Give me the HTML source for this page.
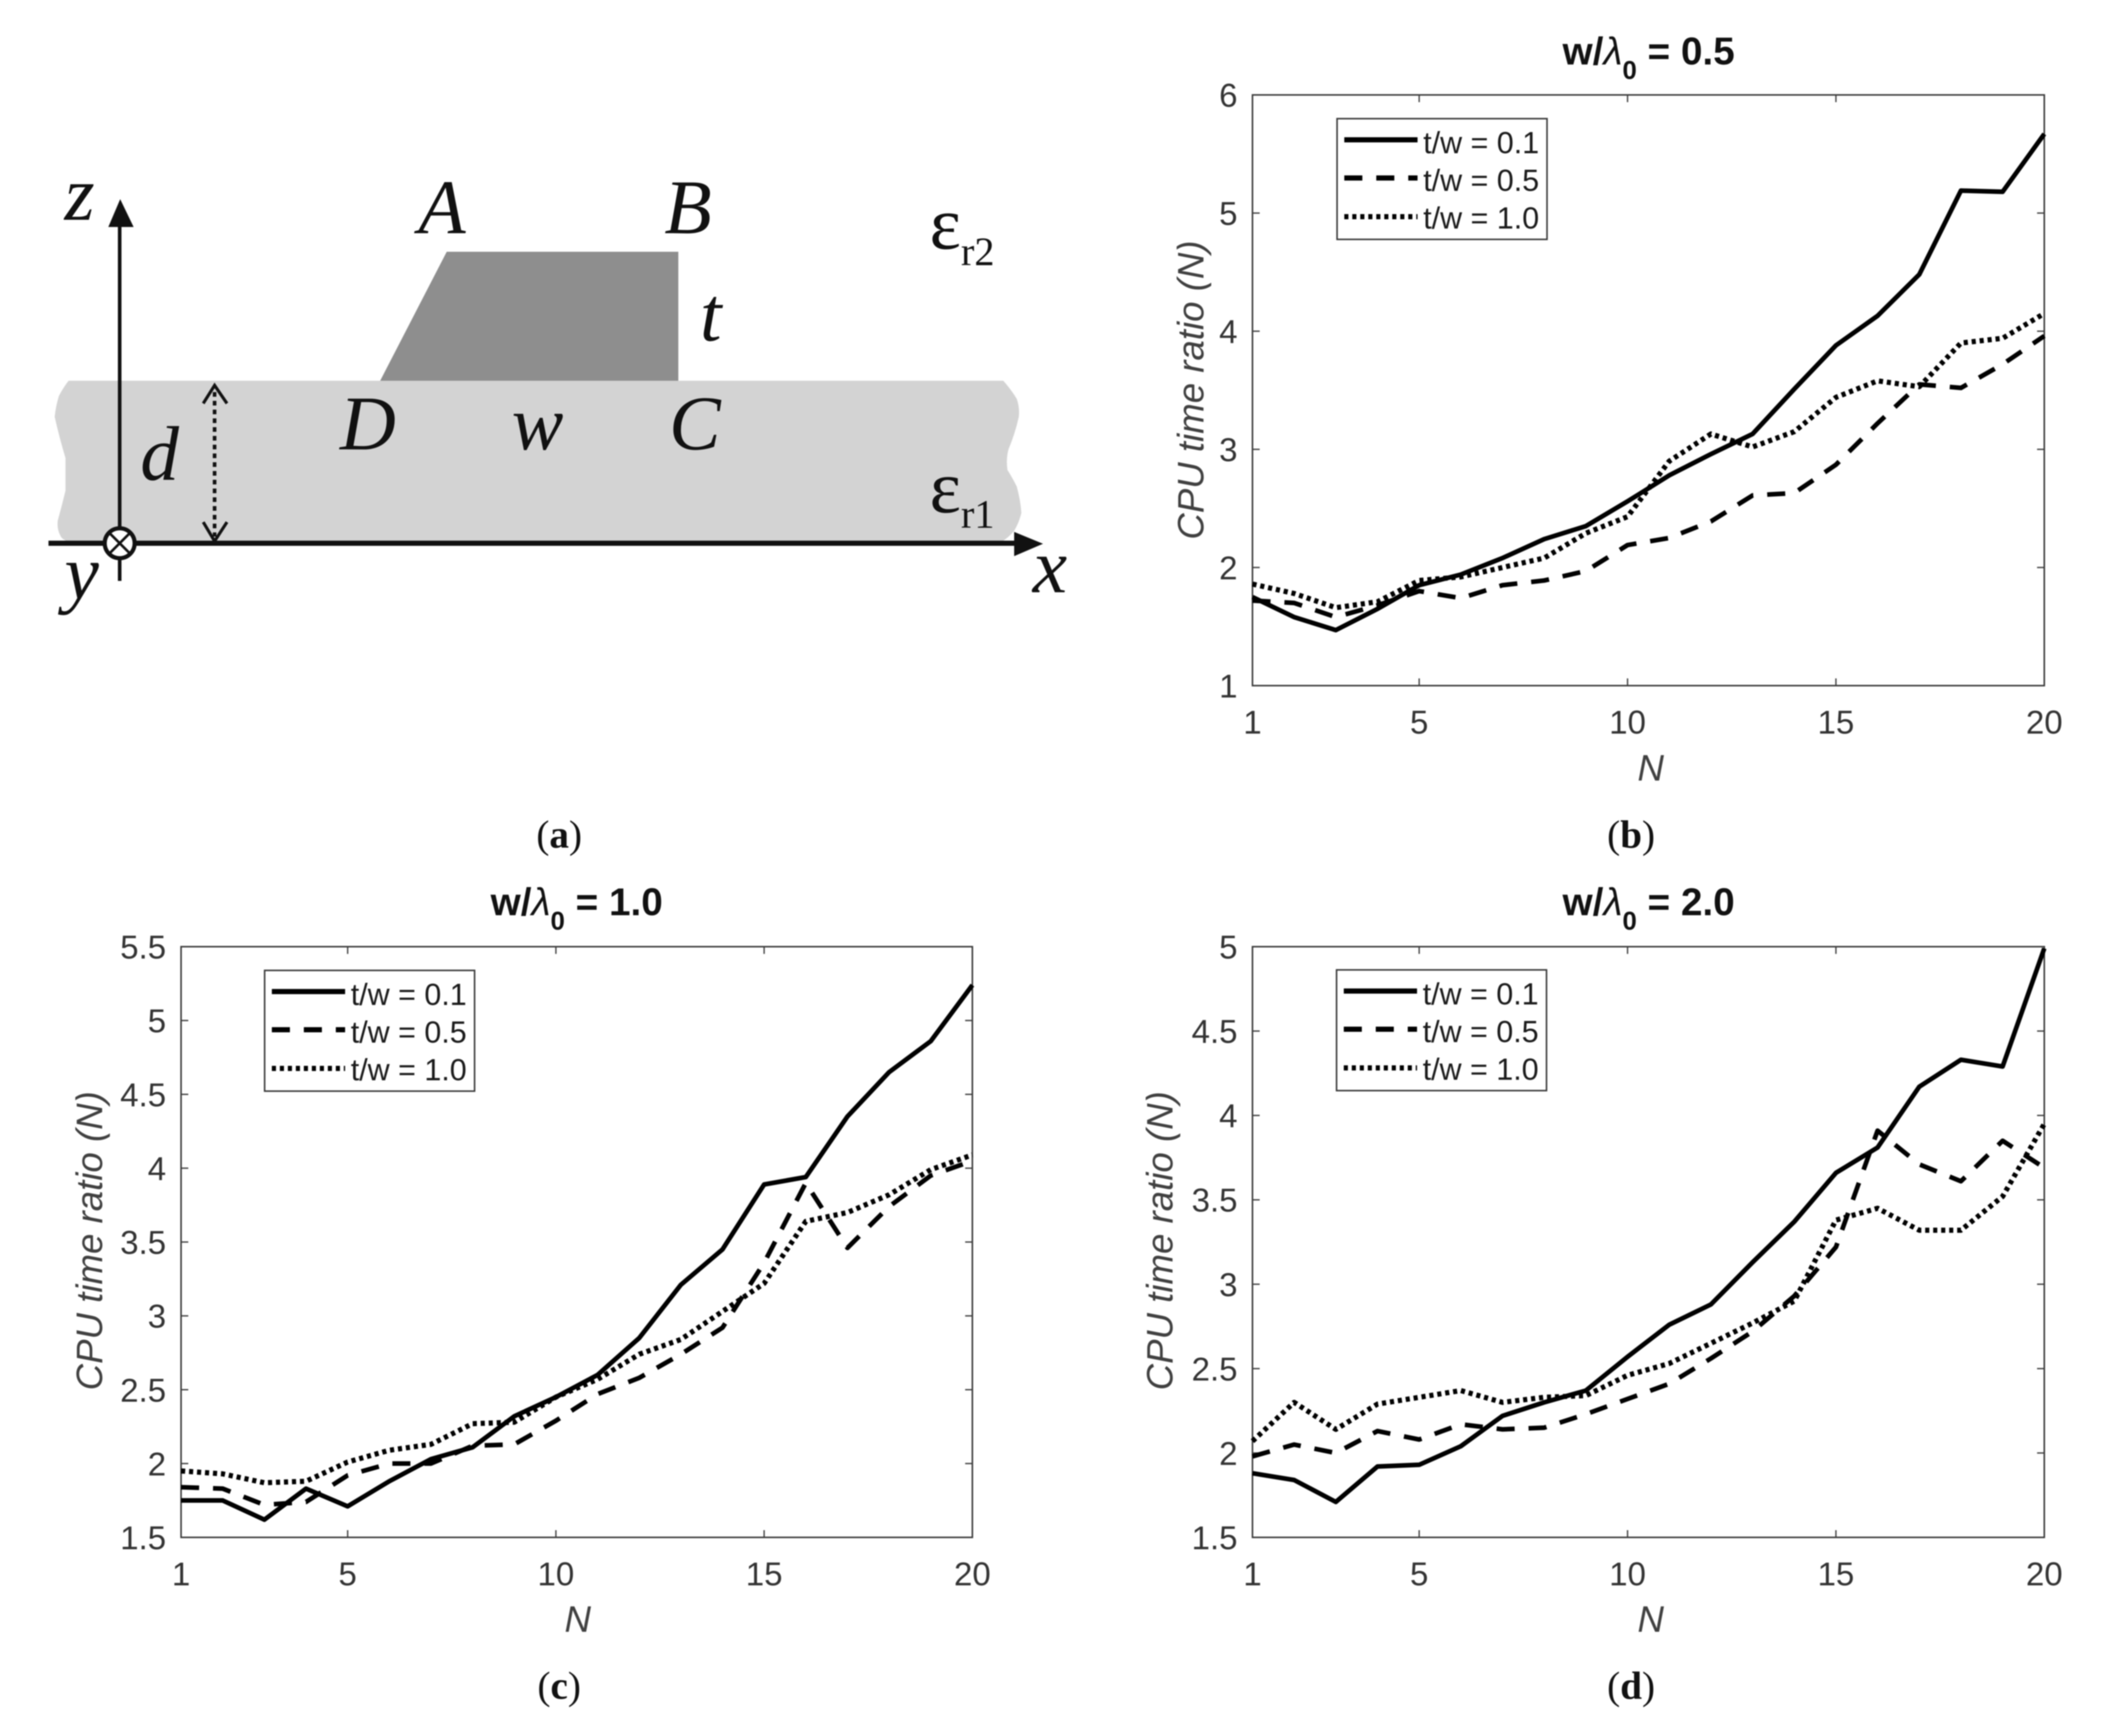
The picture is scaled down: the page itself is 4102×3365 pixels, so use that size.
<!DOCTYPE html>
<html lang="en">
<head>
<meta charset="utf-8">
<title>CPU time ratio figure</title>
<style>
html,body{margin:0;padding:0;background:#fff;}
svg{display:block;filter:blur(1px);}
text{font-family:"Liberation Sans",sans-serif;}
.letter{font-family:"Liberation Serif",serif;font-style:italic;font-size:150px;fill:#111;}
.eps{font-family:"Liberation Serif",serif;font-size:145px;fill:#111;}
.eps-sub{font-family:"Liberation Serif",serif;font-size:78px;fill:#111;}
.ttl{font-size:75px;font-weight:bold;fill:#111;text-anchor:middle;}
.axl{font-size:71px;font-style:italic;fill:#404040;text-anchor:middle;}
.cap{font-family:"Liberation Serif",serif;font-size:76px;fill:#111;text-anchor:middle;}
</style>
</head>
<body>
<svg id="fig" xmlns="http://www.w3.org/2000/svg" width="4102" height="3365" viewBox="0 0 4102 3365">
  <rect width="4102" height="3365" fill="#fff"/>

  <g>
    <path fill="#d3d3d3" d="M133 738 L1945 738 Q1960 755 1971 773 Q1977 790 1975 808 Q1968 840 1955 871 Q1950 890 1953 911 Q1962 925 1971 943 Q1978 968 1980 994 Q1976 1012 1966 1029 Q1955 1042 1942 1050 L133 1050 Q120 1046 117 1038 Q110 1025 112 1009 Q120 980 127 951 L127 888 Q115 848 106 808 Q108 788 114 768 Q122 752 133 738 Z"/>
    <polygon fill="#8e8e8e" points="866,488 1315,488 1315,738 737,738"/>
    <line x1="94" y1="1053" x2="1975" y2="1053" stroke="#111" stroke-width="10"/>
    <polygon fill="#111" points="2022,1054 1966,1031 1966,1078"/>
    <line x1="232" y1="1126" x2="232" y2="430" stroke="#111" stroke-width="7"/>
    <polygon fill="#111" points="233,386 210,440 259,440"/>
    <g>
      <circle cx="232" cy="1053" r="29" fill="#fff" stroke="#111" stroke-width="8"/>
      <line x1="213" y1="1034" x2="251" y2="1072" stroke="#111" stroke-width="5"/>
      <line x1="251" y1="1034" x2="213" y2="1072" stroke="#111" stroke-width="5"/>
    </g>
    <g fill="none" stroke="#111">
      <line x1="416" y1="760" x2="416" y2="1040" stroke-width="7" stroke-dasharray="9 8"/>
      <polyline points="394,782 416,747 440,782" stroke-width="6"/>
      <polyline points="394,1012 416,1049 440,1012" stroke-width="6"/>
    </g>
    <text class="letter" x="125" y="426">z</text>
    <text class="letter" x="811" y="452">A</text>
    <text class="letter" x="1288" y="452">B</text>
    <text class="letter" x="1357" y="660">t</text>
    <text class="letter" x="659" y="871">D</text>
    <text class="letter" x="992" y="871">w</text>
    <text class="letter" x="1297" y="871">C</text>
    <text class="letter" x="272" y="930">d</text>
    <text class="letter" x="125" y="1160">y</text>
    <text class="letter" x="2002" y="1148">x</text>
    <text x="1802" y="482"><tspan class="eps">ε</tspan><tspan class="eps-sub" dy="32">r2</tspan></text>
    <text x="1802" y="993"><tspan class="eps">ε</tspan><tspan class="eps-sub" dy="30">r1</tspan></text>
  </g>

  <text class="ttl" x="3196" y="125">w/<tspan font-style="italic" font-weight="normal">λ</tspan><tspan dy="28" font-size="50">0</tspan><tspan dy="-28"> = 0.5</tspan></text>
  <text class="ttl" x="1118" y="1774">w/<tspan font-style="italic" font-weight="normal">λ</tspan><tspan dy="28" font-size="50">0</tspan><tspan dy="-28"> = 1.0</tspan></text>
  <text class="ttl" x="3196" y="1774">w/<tspan font-style="italic" font-weight="normal">λ</tspan><tspan dy="28" font-size="50">0</tspan><tspan dy="-28"> = 2.0</tspan></text>

  <text class="axl" transform="translate(2333 756) rotate(-90)">CPU time ratio (N)</text>
  <text class="axl" transform="translate(198 2405) rotate(-90)">CPU time ratio (N)</text>
  <text class="axl" transform="translate(2273 2405) rotate(-90)">CPU time ratio (N)</text>
  <text class="axl" x="3200" y="1513">N</text>
  <text class="axl" x="1120" y="3163">N</text>
  <text class="axl" x="3200" y="3163">N</text>

  <text class="cap" x="1084" y="1643">(<tspan font-weight="bold">a</tspan>)</text>
  <text class="cap" x="3162" y="1643">(<tspan font-weight="bold">b</tspan>)</text>
  <text class="cap" x="1084" y="3293">(<tspan font-weight="bold">c</tspan>)</text>
  <text class="cap" x="3162" y="3293">(<tspan font-weight="bold">d</tspan>)</text>
</svg>

<script>
const N = [1,2,3,4,5,6,7,8,9,10,11,12,13,14,15,16,17,18,19,20];
const xTicks = [1,5,10,15,20];
const legendLabels = ['t/w = 0.1','t/w = 0.5','t/w = 1.0'];

const bYTicks = ['1','2','3','4','5','6'];
const bSolid = [1.75,1.58,1.47,1.65,1.85,1.94,2.08,2.24,2.35,2.56,2.78,2.96,3.13,3.51,3.88,4.13,4.48,5.19,5.18,5.67];
const bDash  = [1.72,1.70,1.58,1.68,1.80,1.74,1.85,1.89,1.97,2.19,2.25,2.39,2.61,2.63,2.87,3.22,3.55,3.52,3.72,3.96];
const bDot   = [1.86,1.78,1.66,1.71,1.89,1.92,2.00,2.08,2.29,2.43,2.90,3.13,3.02,3.15,3.44,3.58,3.53,3.90,3.94,4.15];

const cYTicks = ['1.5','2','2.5','3','3.5','4','4.5','5','5.5'];
const cSolid = [1.75,1.75,1.62,1.83,1.71,1.88,2.03,2.11,2.32,2.45,2.60,2.85,3.21,3.45,3.89,3.94,4.35,4.65,4.86,5.24];
const cDash  = [1.84,1.83,1.72,1.74,1.92,2.00,2.00,2.12,2.13,2.29,2.47,2.58,2.74,2.92,3.36,3.90,3.46,3.74,3.95,4.05];
const cDot   = [1.95,1.93,1.87,1.88,2.01,2.09,2.13,2.27,2.28,2.45,2.57,2.74,2.84,3.03,3.22,3.64,3.70,3.82,3.99,4.09];

const dYTicks = ['1.5','2','2.5','3','3.5','4','4.5','5'];
const dSolid = [1.88,1.84,1.71,1.92,1.93,2.04,2.22,2.30,2.37,2.57,2.76,2.88,3.13,3.37,3.66,3.81,4.17,4.33,4.29,4.99];
const dDash  = [1.98,2.05,2.00,2.13,2.08,2.17,2.14,2.15,2.23,2.32,2.41,2.56,2.72,2.93,3.22,3.91,3.71,3.61,3.85,3.69];
const dDot   = [2.07,2.30,2.14,2.29,2.33,2.37,2.30,2.33,2.34,2.46,2.53,2.65,2.77,2.90,3.38,3.45,3.32,3.32,3.52,3.95];

const SVGNS = 'http://www.w3.org/2000/svg';
const fig = document.getElementById('fig');
const styles = [
  {dash: null, width: 9},
  {dash: '35 27', width: 9},
  {dash: '8 7.5', width: 10}
];
const seriesNames = ['t-w-0-1','t-w-0-5','t-w-1-0'];

function make(parent, tag, props) {
  const el = document.createElementNS(SVGNS, tag);
  for (const k in props) el.setAttribute(k, props[k]);
  parent.appendChild(el);
  return el;
}

function drawPanel(id, box, yMin, yMax, yTicks, series, legend) {
  const xScale = v => box.left + (v - N[0]) / (N[N.length - 1] - N[0]) * (box.right - box.left);
  const yScale = v => box.bottom - (v - yMin) / (yMax - yMin) * (box.bottom - box.top);
  const g = make(fig, 'g', {});
  
  

  const frame = make(g, 'rect', {x: box.left, y: box.top, width: box.right - box.left, height: box.bottom - box.top, fill: 'none', stroke: '#3a3a3a', 'stroke-width': 3});
  
  

  xTicks.forEach(t => {
    const x = xScale(t);
    const bottomTick = make(g, 'line', {x1: x, x2: x, y1: box.bottom, y2: box.bottom - 14, stroke: '#3a3a3a', 'stroke-width': 2.5});
    
    
    const topTick = make(g, 'line', {x1: x, x2: x, y1: box.top, y2: box.top + 14, stroke: '#3a3a3a', 'stroke-width': 2.5});
    
    
    const lab = make(g, 'text', {x: x, y: box.bottom + 93, 'text-anchor': 'middle', 'font-size': 64, fill: '#333'});
    
    
    lab.textContent = String(t);
  });

  yTicks.forEach(t => {
    const y = yScale(parseFloat(t));
    const leftTick = make(g, 'line', {x1: box.left, x2: box.left + 14, y1: y, y2: y, stroke: '#3a3a3a', 'stroke-width': 2.5});
    
    
    const rightTick = make(g, 'line', {x1: box.right, x2: box.right - 14, y1: y, y2: y, stroke: '#3a3a3a', 'stroke-width': 2.5});
    
    
    const lab = make(g, 'text', {x: box.left - 29, y: y + 23, 'text-anchor': 'end', 'font-size': 64, fill: '#333'});
    
    
    lab.textContent = t;
  });

  series.forEach((vals, i) => {
    const pts = vals.map((v, j) => xScale(N[j]).toFixed(1) + ',' + yScale(v).toFixed(1)).join(' ');
    const props = {points: pts, fill: 'none', stroke: '#000', 'stroke-width': styles[i].width, 'stroke-linejoin': 'round'};
    if (styles[i].dash) props['stroke-dasharray'] = styles[i].dash;
    const line = make(g, 'polyline', props);
    
    
  });

  const lg = make(g, 'g', {});
  
  
  const lbox = make(lg, 'rect', {x: legend.x, y: legend.y, width: 407, height: 234, fill: '#fff', stroke: '#3a3a3a', 'stroke-width': 3});
  
  
  const lineOffsets = [41, 115, 190];
  const textOffsets = [67, 140, 213];
  legendLabels.forEach((s, i) => {
    const props = {x1: legend.x + 14, x2: legend.x + 156, y1: legend.y + lineOffsets[i], y2: legend.y + lineOffsets[i], stroke: '#000', 'stroke-width': 10};
    if (styles[i].dash) props['stroke-dasharray'] = styles[i].dash;
    const sample = make(lg, 'line', props);
    
    
    const txt = make(lg, 'text', {x: legend.x + 167, y: legend.y + textOffsets[i], 'font-size': 59, fill: '#1a1a1a'});
    
    
    txt.textContent = s;
  });
}

drawPanel('b', {left: 2428, right: 3963, top: 184, bottom: 1329}, 1, 6, bYTicks, [bSolid, bDash, bDot], {x: 2592, y: 230});
drawPanel('c', {left: 351, right: 1885, top: 1835, bottom: 2980}, 1.5, 5.5, cYTicks, [cSolid, cDash, cDot], {x: 513, y: 1881});
drawPanel('d', {left: 2428, right: 3963, top: 1835, bottom: 2980}, 1.5, 5, dYTicks, [dSolid, dDash, dDot], {x: 2591, y: 1880});
</script>
</body>
</html>
